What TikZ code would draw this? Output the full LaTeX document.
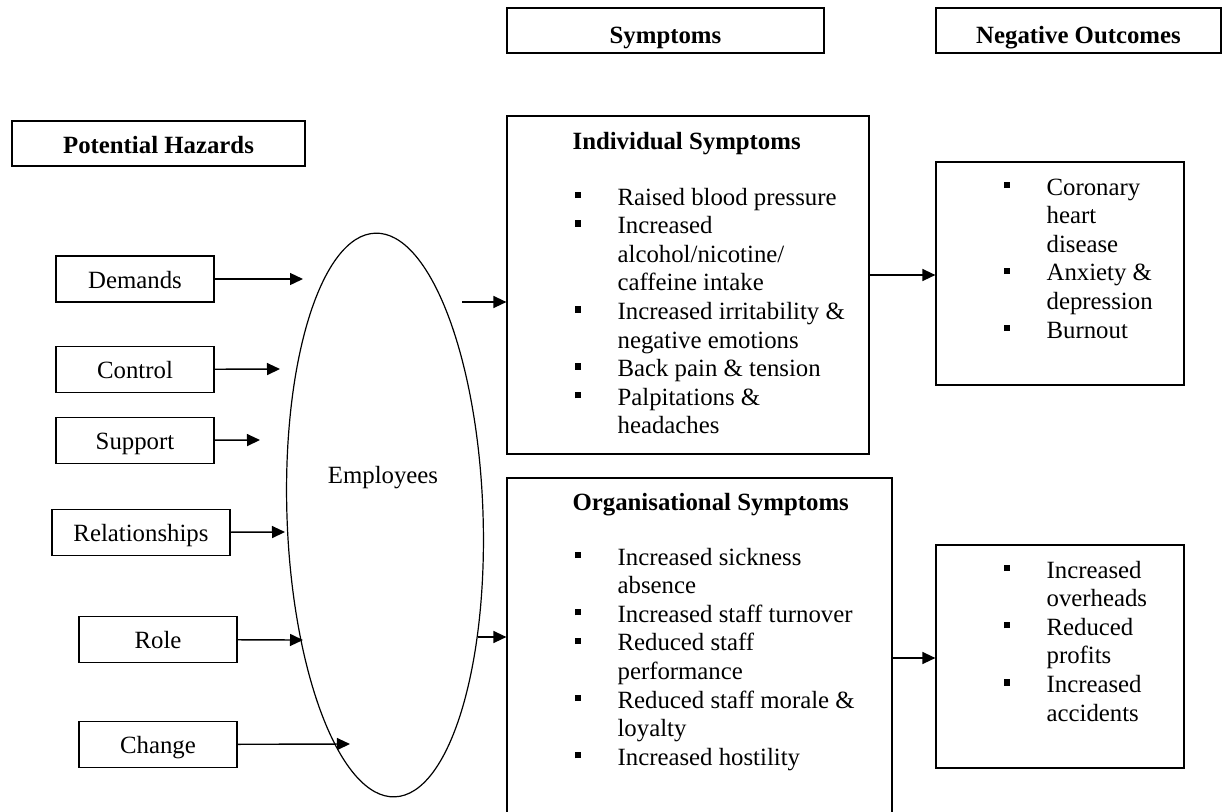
\documentclass[tikz,border=0pt]{standalone}
\usepackage{fontspec}
\setmainfont{Liberation Serif}
\usetikzlibrary{shapes.geometric,arrows.meta}
% small filled square used as list bullet
\newcommand{\bsq}{\rule[3.4pt]{3.2pt}{3.2pt}}
\begin{document}
\begin{tikzpicture}[x=0.5pt,y=-0.5pt,
  font=\fontsize{12.4}{14.3}\selectfont,
  line width=0.6pt,
  frame/.style={draw, rectangle, inner sep=0pt, text depth=0pt},
  hazard/.style={frame, minimum width=79pt, minimum height=23pt, text height=9pt},
  header/.style={frame, font=\fontsize{12.4}{14.3}\selectfont\bfseries, minimum height=22.5pt},
  bigbox/.style={draw, rectangle, inner sep=0pt},
  title/.style={anchor=base west, inner sep=0pt, font=\fontsize{12.4}{14.3}\selectfont\bfseries},
  list/.style={anchor=base west, inner sep=0pt},
  arr/.style={-{Triangle[length=6.5pt,width=6pt]}, line width=0.7pt}]
\useasboundingbox (0,0) rectangle (1223,811);

% column headers
\node[header, minimum width=146.5pt, text height=9.5pt] (hzd) at (158.5,143.5) {Potential Hazards};
\node[header, minimum width=158.5pt, text height=12.5pt] (sym) at (665.5,30.5) {Symptoms};
\node[header, minimum width=142.5pt, text height=12.5pt] (neg) at (1078.5,30.5) {Negative Outcomes};

% hazards
\node[hazard] (dem) at (135,279) {Demands};
\node[hazard] (con) at (135,369.5) {Control};
\node[hazard] (sup) at (135,440.5) {Support};
\node[hazard, minimum width=89pt] (rel) at (141,532.5) {Relationships};
\node[hazard] (rol) at (158,639.5) {Role};
\node[hazard] (chg) at (158,744.5) {Change};

% employees
\node[draw, ellipse, inner sep=0pt, minimum width=98pt, minimum height=282pt, rotate=2] (emp) at (385,515) {};
\node[anchor=base, inner sep=0pt] (empl) at (383,483) {Employees};

\coordinate (tdem) at (303,279);
\coordinate (tcon) at (280,369);
\coordinate (tsup) at (260,440);
\coordinate (trel) at (285,532);
\coordinate (trol) at (303,640);
\coordinate (tchg) at (350,744);
\draw[arr] (dem) -- (tdem);
\draw[arr] (con) -- (tcon);
\draw[arr] (sup) -- (tsup);
\draw[arr] (rel) -- (trel);
\draw[arr] (rol) -- (trol);
\draw[arr] (chg) -- (tchg);

% symptom boxes
\node[bigbox, minimum width=181pt, minimum height=169pt] (ind) at (688,285) {};
\node[bigbox, minimum width=192.5pt, minimum height=171pt] (org) at (699.5,649) {};

\node[title] (indt) at (572,149) {Individual Symptoms};
\node[list] (indl) at (574,205) {\begin{tabular}[t]{@{}p{21.5pt}@{}l@{}}
\bsq & Raised blood pressure\\
\bsq & Increased\\
     & alcohol/nicotine/\\
     & caffeine intake\\
\bsq & Increased irritability \&\\
     & negative emotions\\
\bsq & Back pain \& tension\\
\bsq & Palpitations \&\\
     & headaches
\end{tabular}};

\node[title] (orgt) at (572,510) {Organisational Symptoms};
\node[list] (orgl) at (574,565) {\begin{tabular}[t]{@{}p{21.5pt}@{}l@{}}
\bsq & Increased sickness\\
     & absence\\
\bsq & Increased staff turnover\\
\bsq & Reduced staff\\
     & performance\\
\bsq & Reduced staff morale \&\\
     & loyalty\\
\bsq & Increased hostility
\end{tabular}};

\coordinate (sind) at (462,302);
\coordinate (sorg) at (478,637);
\draw[arr] (sind) -- (ind.west |- sind);
\draw[arr] (sorg) -- (org.west |- sorg);

% outcome boxes
\node[bigbox, minimum width=124pt, minimum height=111.5pt] (out1) at (1060,273.5) {};
\node[bigbox, minimum width=124pt, minimum height=111.5pt] (out2) at (1060,656.5) {};

\node[list] (out1l) at (1003,195) {\begin{tabular}[t]{@{}p{21.5pt}@{}l@{}}
\bsq & Coronary\\
     & heart\\
     & disease\\
\bsq & Anxiety \&\\
     & depression\\
\bsq & Burnout
\end{tabular}};
\node[list] (out2l) at (1003,578) {\begin{tabular}[t]{@{}p{21.5pt}@{}l@{}}
\bsq & Increased\\
     & overheads\\
\bsq & Reduced\\
     & profits\\
\bsq & Increased\\
     & accidents
\end{tabular}};

\coordinate (r1) at (0,275);
\coordinate (r2) at (0,658);
\draw[arr] (ind.east |- r1) -- (out1.west |- r1);
\draw[arr] (org.east |- r2) -- (out2.west |- r2);
\end{tikzpicture}
\end{document}
